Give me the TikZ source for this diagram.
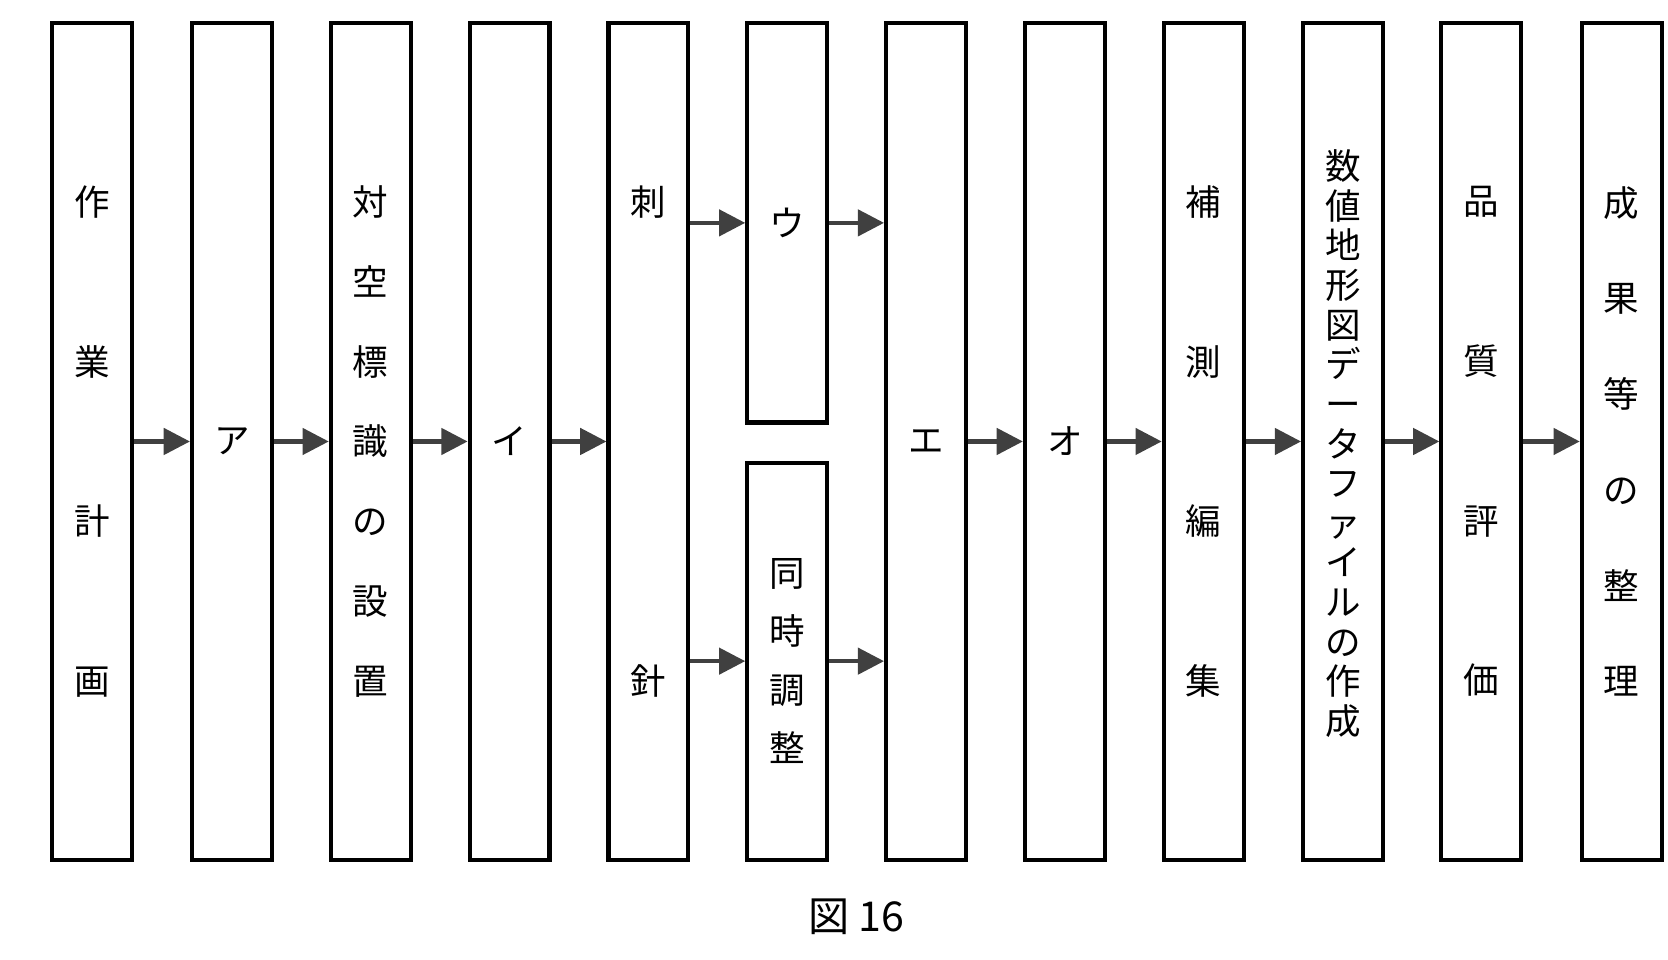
\documentclass[tikz,border=0pt]{standalone}
\usepackage{fontspec}
\setmainfont{Noto Sans CJK JP}
\usetikzlibrary{arrows.meta}
\tikzset{
	box/.style={draw,line width=1.1pt,minimum width=0.75cm,minimum height=7.86cm,inner sep=0pt,align=center},
	flow/.style={line width=1.1pt,-{Triangle[length=7pt,width=7pt]},black!75}
}
\newcommand{\vsz}[1]{\fontsize{9.5}{#1}\selectfont}
\begin{document}
\begin{tikzpicture}[x=0.01cm,y=-0.01cm]
	\useasboundingbox (0,0) rectangle (1568,902);
	\node[box,font=\vsz{42.7pt}] (b1) at (86.5,415) {作\\業\\計\\画};
	\node[box,font=\vsz{9pt}] (b2) at (218,415) {ア};
	\node[box,font=\vsz{21.3pt}] (b3) at (348.5,415) {対\\空\\標\\識\\の\\設\\置};
	\node[box,font=\vsz{9pt}] (b4) at (479,415) {イ};
	\node[box,font=\vsz{128pt}] (b5) at (609.5,415) {刺\\針};
	\node[box,minimum height=3.75cm,font=\vsz{9pt}] (bU) at (740,209.5) {ウ};
	\node[box,minimum height=3.73cm,font=\vsz{15.6pt}] (bS) at (740,621.5) {同\\時\\調\\整};
	\node[box,font=\vsz{9pt}] (b7) at (870.5,415) {エ};
	\node[box,font=\vsz{9pt}] (b8) at (1001,415) {オ};
	\node[box,font=\vsz{42.7pt}] (b9) at (1131.5,415) {補\\測\\編\\集};
	\node[box] (b10) at (1262.5,415) {};
	\node[font=\vsz{10.6pt},align=center] at (1262.5,417) {数\\値\\地\\形\\図\\デ\\ー\\タ\\フ\\ァ\\イ\\ル\\の\\作\\成};
	\node[box,font=\vsz{42.7pt}] (b11) at (1392.5,415) {品\\質\\評\\価};
	\node[box,font=\vsz{25.6pt}] (b12) at (1524.5,415) {成\\果\\等\\の\\整\\理};
	% connectors
	\foreach \a/\b in {b1/b2,b2/b3,b3/b4,b4/b5,b7/b8,b8/b9,b9/b10,b10/b11,b11/b12}
		\draw[flow] (\a.east) -- (\b.west);
	\draw[flow] (b5.east |- bU.west) -- (bU.west);
	\draw[flow] (b5.east |- bS.west) -- (bS.west);
	\draw[flow] (bU.east) -- (b7.west |- bU.east);
	\draw[flow] (bS.east) -- (b7.west |- bS.east);
	\node[font=\fontsize{11}{11}\selectfont] (cap) at (805,862) {図 16};
\end{tikzpicture}
\end{document}
